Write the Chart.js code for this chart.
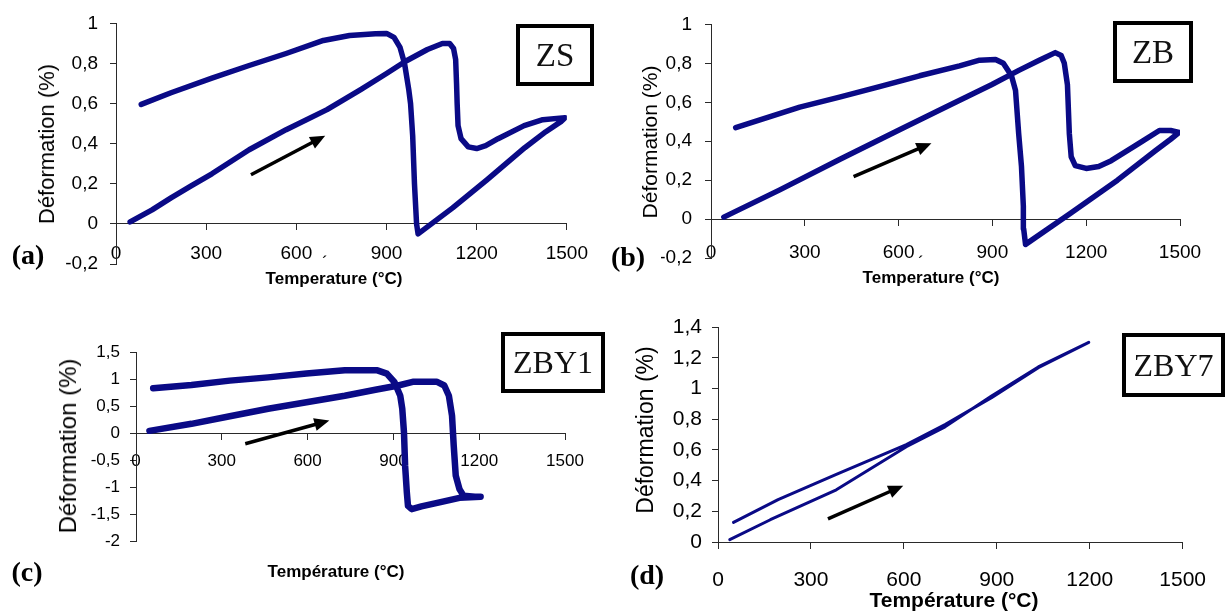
<!DOCTYPE html>
<html>
<head>
<meta charset="utf-8">
<script src="https://cdn.jsdelivr.net/npm/chart.js@4.4.1/dist/chart.umd.min.js"></script>
<style>
  body { margin: 0; background: #fff; width: 1226px; height: 611px; position: relative; overflow: hidden; font-family: "Liberation Sans", Arial, sans-serif; color: #000; }
  canvas { position: absolute; }
  .box { position: absolute; border: 4px solid #000; box-sizing: border-box; display: flex; align-items: center; justify-content: center; font-family: "Liberation Serif", "Times New Roman", serif; font-size: 33px; color: #111; }
  .tag { position: absolute; transform: translate(-50%, -50%); font-family: "Liberation Serif", "Times New Roman", serif; font-weight: bold; font-size: 28px; }
  .xt { position: absolute; transform: translate(-50%, -50%); font-weight: bold; font-size: 17px; white-space: nowrap; }
  .yt { position: absolute; transform: translate(-50%, -50%) rotate(-90deg); white-space: nowrap; }
</style>
</head>
<body>
<canvas id="chartA" width="600" height="300" style="left:0;top:0"></canvas>
<canvas id="chartB" width="626" height="300" style="left:600px;top:0"></canvas>
<canvas id="chartC" width="600" height="311" style="left:0;top:300px"></canvas>
<canvas id="chartD" width="626" height="311" style="left:600px;top:300px"></canvas>

<div class="yt" style="left:47px;top:144px;font-size:22px">Déformation (%)</div>
<div class="yt" style="left:650px;top:142px;font-size:21px">Déformation (%)</div>
<div class="yt" style="left:68px;top:446px;font-size:24px">Déformation (%)</div>
<div class="yt" style="left:645px;top:430px;font-size:23px">Déformation (%)</div>

<div class="xt" style="left:334px;top:279px">Temperature (°C)</div>
<div class="xt" style="left:931px;top:278px">Temperature (°C)</div>
<div class="xt" style="left:336px;top:572px">Température (°C)</div>
<div class="xt" style="left:954px;top:600px;font-size:21px">Température (°C)</div>
<div class="xt" style="left:325px;top:263px;font-weight:normal">´</div>
<div class="xt" style="left:921px;top:263px;font-weight:normal">´</div>

<div class="tag" style="left:28px;top:255px">(a)</div>
<div class="tag" style="left:628px;top:257px">(b)</div>
<div class="tag" style="left:27px;top:572px">(c)</div>
<div class="tag" style="left:647px;top:575px">(d)</div>

<div class="box" style="left:516px;top:24px;width:78px;height:62px">ZS</div>
<div class="box" style="left:1113px;top:21px;width:80px;height:62px">ZB</div>
<div class="box" style="left:501px;top:332px;width:104px;height:61px;font-size:32px">ZBY1</div>
<div class="box" style="left:1122px;top:333px;width:103px;height:64px;font-size:32px">ZBY7</div>

<script>
// ZS : heating, cooling, back to room temperature
const zsTemp = [47, 120, 183, 250, 319, 443, 566, 702, 814, 900, 962, 1036, 1086, 1110, 1123, 1130, 1133, 1135, 1138, 1148, 1172, 1200, 1230, 1271, 1358, 1420, 1494,
  1480, 1430, 1360, 1234, 1120, 1005,
  1000, 993, 987, 980, 974, 960, 945, 925, 900, 863, 777, 690, 566, 443, 319, 183, 84];
const zsDef = [0.01, 0.07, 0.13, 0.19, 0.25, 0.37, 0.47, 0.57, 0.67, 0.75, 0.81, 0.87, 0.9, 0.9, 0.875, 0.82, 0.7, 0.6, 0.49, 0.425, 0.384, 0.376, 0.39, 0.425, 0.49, 0.52, 0.53,
  0.51, 0.46, 0.38, 0.22, 0.08, -0.05,
  0.0, 0.2, 0.44, 0.6, 0.67, 0.8, 0.88, 0.93, 0.95, 0.948, 0.94, 0.915, 0.85, 0.79, 0.727, 0.654, 0.596];

// ZB
const zbTemp = [41, 220, 411, 603, 756, 897, 986, 1050, 1101, 1120, 1130, 1140, 1146, 1152, 1165, 1200, 1240, 1280, 1370, 1434, 1470, 1497,
  1470, 1420, 1300, 1150, 1006,
  1000, 999, 993, 984, 974, 961, 935, 910, 859, 795, 667, 539, 411, 284, 79];
const zbDef = [0.01, 0.15, 0.306, 0.459, 0.58, 0.69, 0.765, 0.816, 0.855, 0.84, 0.8, 0.69, 0.44, 0.32, 0.275, 0.26, 0.27, 0.3, 0.39, 0.455, 0.455, 0.445,
  0.41, 0.35, 0.2, 0.03, -0.13,
  -0.05, 0.065, 0.27, 0.44, 0.66, 0.736, 0.8, 0.82, 0.816, 0.787, 0.736, 0.68, 0.626, 0.575, 0.47];

// ZBY1
const zby1Temp = [47, 194, 328, 462, 596, 730, 837, 917, 971, 1051, 1078, 1094, 1105, 1111, 1118, 1131, 1145, 1185, 1205,
  1131, 1065, 998, 964, 951, 947, 941, 937, 931, 924, 904, 877, 844, 730, 596, 462, 328, 194, 60];
const zby1Def = [0.04, 0.17, 0.31, 0.45, 0.57, 0.69, 0.8, 0.88, 0.95, 0.95, 0.88, 0.69, 0.32, -0.24, -0.79, -1.04, -1.16, -1.18, -1.18,
  -1.2, -1.28, -1.36, -1.41, -1.35, -1.1, -0.61, 0.01, 0.45, 0.69, 0.94, 1.1, 1.16, 1.16, 1.1, 1.03, 0.97, 0.89, 0.83];

// ZBY7
const zby7Temp = [38, 169, 382, 608, 733, 883, 1034, 1197, 1034, 883, 733, 608, 382, 194, 50];
const zby7Def = [0.015, 0.145, 0.34, 0.62, 0.75, 0.95, 1.14, 1.3, 1.135, 0.94, 0.765, 0.634, 0.44, 0.276, 0.128];

// heating direction arrows: [T start, def start, T end, def end]
const zsArrow = [449, 0.245, 696, 0.44];
const zbArrow = [456, 0.218, 705, 0.39];
const zby1Arrow = [382, -0.2, 676, 0.23];
const zby7Arrow = [355, 0.15, 598, 0.367];

const tempTicks = [0, 300, 600, 900, 1200, 1500];

const NAVY = '#0a0a86';
const AXIS = '#2a2a2a';
const SANS = '"Liberation Sans", Arial, sans-serif';

const comma = v => String(Math.round(v * 10) / 10).replace('.', ',');

function arrowPlugin(a) {
  return {
    id: 'arrow',
    afterDatasetsDraw(chart) {
      const {ctx, scales: {x, y}} = chart;
      const x1 = x.getPixelForValue(a[0]), y1 = y.getPixelForValue(a[1]);
      const x2 = x.getPixelForValue(a[2]), y2 = y.getPixelForValue(a[3]);
      const ang = Math.atan2(y2 - y1, x2 - x1);
      const head = 15, half = 6.5;
      ctx.save();
      ctx.strokeStyle = '#000';
      ctx.fillStyle = '#000';
      ctx.lineWidth = 3.5;
      ctx.beginPath();
      ctx.moveTo(x1, y1);
      ctx.lineTo(x2 - Math.cos(ang) * head * 0.8, y2 - Math.sin(ang) * head * 0.8);
      ctx.stroke();
      ctx.beginPath();
      ctx.moveTo(x2, y2);
      ctx.lineTo(x2 - Math.cos(ang) * head - Math.sin(ang) * half, y2 - Math.sin(ang) * head + Math.cos(ang) * half);
      ctx.lineTo(x2 - Math.cos(ang) * head + Math.sin(ang) * half, y2 - Math.sin(ang) * head - Math.cos(ang) * half);
      ctx.closePath();
      ctx.fill();
      ctx.restore();
    }
  };
}

function panel(id, temps, defs, arrow, o) {
  const pts = temps.map((t, i) => ({x: t, y: defs[i]}));
  new Chart(document.getElementById(id), {
    type: 'scatter',
    data: {
      datasets: [{
        data: pts,
        showLine: true,
        borderColor: NAVY,
        backgroundColor: NAVY,
        borderWidth: o.lw,
        borderJoinStyle: 'round',
        borderCapStyle: 'round',
        pointRadius: 0,
        tension: 0
      }]
    },
    options: {
      responsive: false,
      animation: false,
      layout: {padding: o.pad},
      plugins: {legend: {display: false}, tooltip: {enabled: false}},
      scales: {
        x: {
          type: 'linear',
          position: {y: 0},
          min: 0,
          max: 1500,
          afterBuildTicks: s => { s.ticks = tempTicks.map(v => ({value: v})); },
          ticks: {font: {family: SANS, size: o.xf}, color: '#000', padding: o.xpad, maxRotation: 0, callback: v => String(v)},
          grid: {drawOnChartArea: false, tickLength: 6, color: AXIS},
          border: {color: AXIS}
        },
        y: {
          min: o.ymin,
          max: o.ymax,
          ticks: {stepSize: o.step, font: {family: SANS, size: o.yf}, color: '#000', padding: o.ypad, callback: comma},
          grid: {drawOnChartArea: false, tickLength: 6, color: AXIS},
          border: {color: AXIS},
          afterFit: s => { s.width = 50; }
        }
      }
    },
    plugins: [arrowPlugin(arrow)]
  });
}

panel('chartA', zsTemp, zsDef, zsArrow,
  {lw: 5.5, ymin: -0.2, ymax: 1, step: 0.2, xf: 19, yf: 19, xpad: 12, ypad: 12, pad: {left: 66, right: 21, top: 19, bottom: 36}});
panel('chartB', zbTemp, zbDef, zbArrow,
  {lw: 5.5, ymin: -0.2, ymax: 1, step: 0.2, xf: 19, yf: 19, xpad: 16, ypad: 13, pad: {left: 61, right: 46, top: 23, bottom: 42}});
panel('chartC', zby1Temp, zby1Def, zby1Arrow,
  {lw: 6.5, ymin: -2, ymax: 1.5, step: 0.5, xf: 17, yf: 17, xpad: 12, ypad: 10, pad: {left: 86, right: 35, top: 52, bottom: 70}});
panel('chartD', zby7Temp, zby7Def, zby7Arrow,
  {lw: 3, ymin: 0, ymax: 1.4, step: 0.2, xf: 21, yf: 21, xpad: 20, ypad: 10, pad: {left: 68, right: 30, top: 27, bottom: 69}});
</script>
</body>
</html>
